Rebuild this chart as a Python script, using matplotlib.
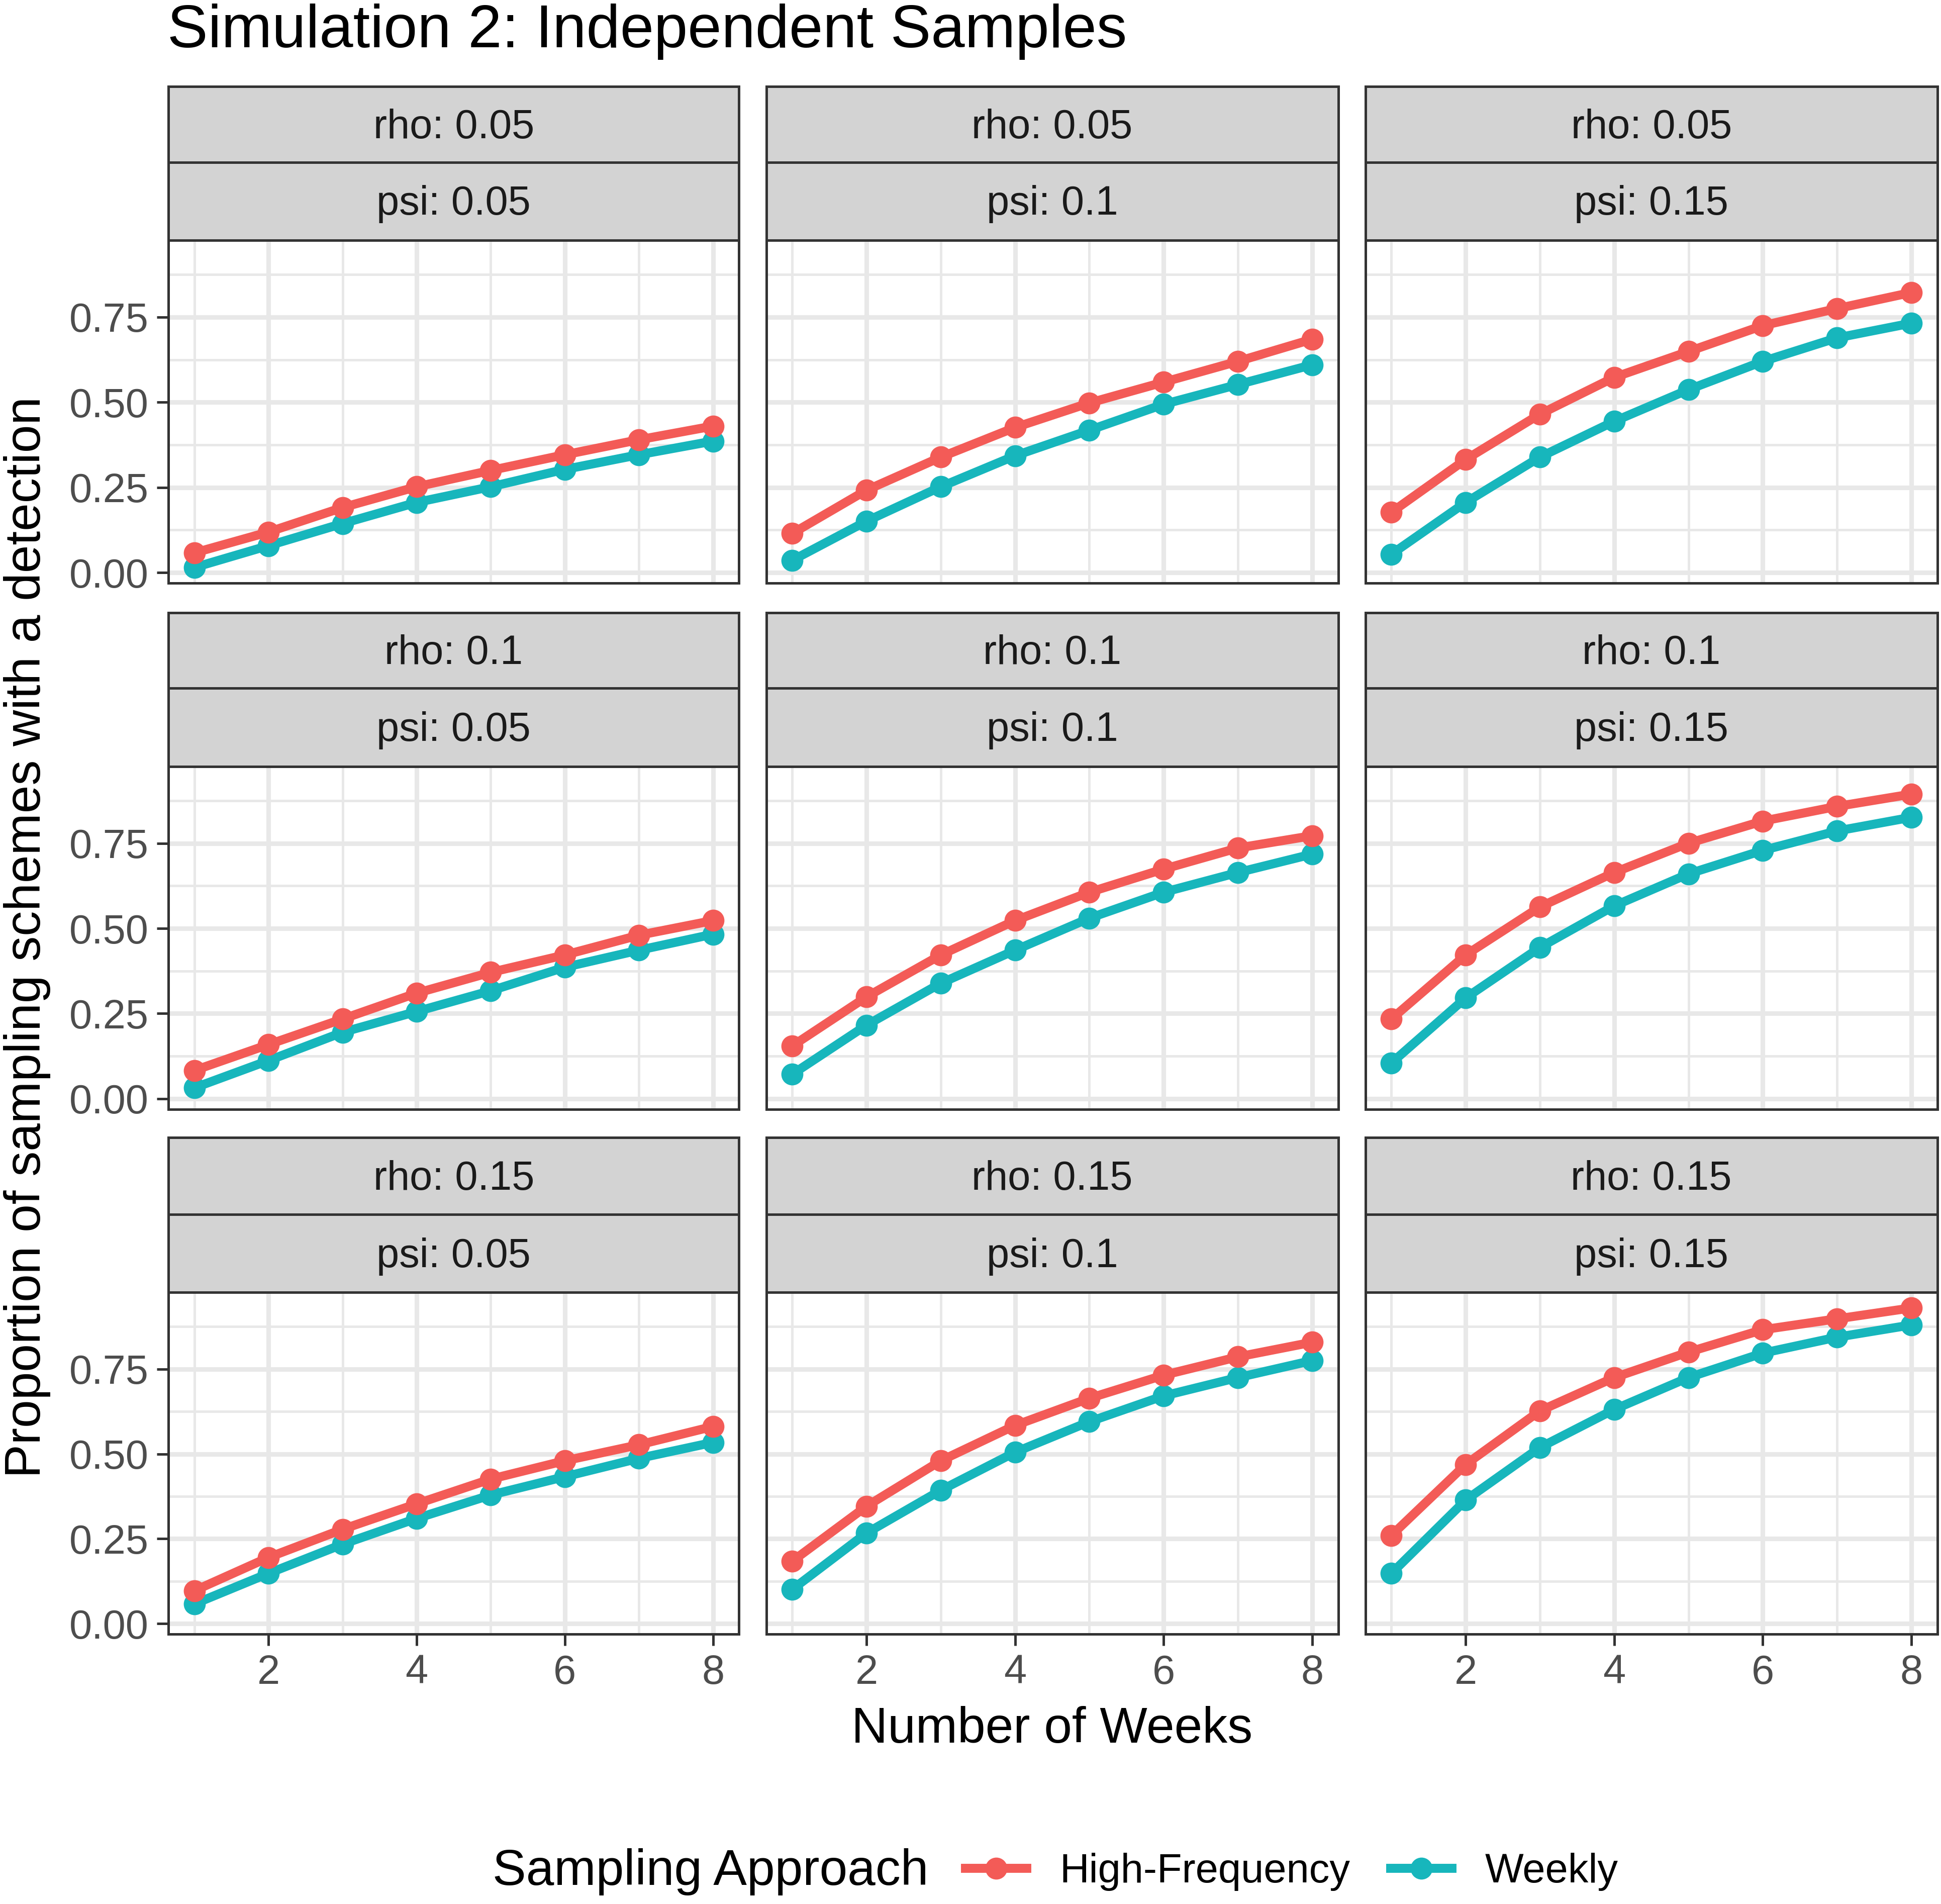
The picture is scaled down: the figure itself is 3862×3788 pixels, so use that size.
import numpy as np
import matplotlib.pyplot as plt
from matplotlib.lines import Line2D

plt.rcParams['font.family'] = ['Liberation Sans', 'DejaVu Sans']

weeks = [1, 2, 3, 4, 5, 6, 7, 8]
rho_labels = ['0.05', '0.1', '0.15']
psi_labels = ['0.05', '0.1', '0.15']

# row = rho, col = psi
high_freq = [
    [0.058, 0.119, 0.191, 0.252, 0.300, 0.346, 0.390, 0.430],
    [0.115, 0.242, 0.339, 0.426, 0.498, 0.559, 0.620, 0.685],
    [0.177, 0.332, 0.465, 0.573, 0.649, 0.725, 0.775, 0.822],
    [0.083, 0.159, 0.234, 0.310, 0.371, 0.422, 0.480, 0.523],
    [0.155, 0.299, 0.422, 0.523, 0.606, 0.674, 0.736, 0.772],
    [0.234, 0.422, 0.563, 0.664, 0.750, 0.815, 0.858, 0.894],
    [0.097, 0.195, 0.278, 0.353, 0.426, 0.480, 0.527, 0.581],
    [0.184, 0.346, 0.480, 0.584, 0.664, 0.732, 0.786, 0.829],
    [0.260, 0.469, 0.627, 0.725, 0.800, 0.866, 0.898, 0.930],
]
weekly = [
    [0.015, 0.079, 0.144, 0.206, 0.252, 0.303, 0.346, 0.386],
    [0.036, 0.151, 0.252, 0.343, 0.418, 0.494, 0.552, 0.610],
    [0.054, 0.206, 0.339, 0.444, 0.537, 0.620, 0.689, 0.732],
    [0.032, 0.112, 0.195, 0.256, 0.317, 0.386, 0.436, 0.483],
    [0.072, 0.216, 0.339, 0.436, 0.530, 0.606, 0.664, 0.718],
    [0.105, 0.296, 0.444, 0.566, 0.660, 0.729, 0.786, 0.826],
    [0.058, 0.148, 0.234, 0.310, 0.379, 0.433, 0.487, 0.534],
    [0.101, 0.267, 0.393, 0.505, 0.595, 0.671, 0.725, 0.775],
    [0.148, 0.364, 0.519, 0.631, 0.725, 0.797, 0.844, 0.880],
]

RED = '#F35B57'
TEAL = '#17B6BC'
BORDER = '#333333'
GRID = '#E8E8E8'
STRIP = '#D3D3D3'
LW = 4.3
MS = 9.5

W, H = 1568.0, 1538.0  # layout measured on a 1568 px wide view


def box(x0, y0, x1, y1):
    return [x0 / W, 1 - y1 / H, (x1 - x0) / W, (y1 - y0) / H]


fig = plt.figure(figsize=(3862 / 300, 3788 / 300), dpi=300)

col_x = [(136, 597), (619, 1081), (1103, 1565)]
row_y = [(70, 131, 194, 471), (495, 556, 619, 896), (919, 981, 1044, 1320)]

allv = np.concatenate([np.ravel(high_freq), np.ravel(weekly)])
pad = 0.05 * (allv.max() - allv.min())
ylim = (allv.min() - pad, allv.max() + pad)
xlim = (1 - 0.05 * 7, 8 + 0.05 * 7)

for r in range(3):
    for c in range(3):
        i = r * 3 + c
        x0, x1 = col_x[c]
        s0, s1, p0, p1 = row_y[r]

        for (a, b), lab in [((s0, s1), 'rho: ' + rho_labels[r]),
                            ((s1, p0), 'psi: ' + psi_labels[c])]:
            sax = fig.add_axes(box(x0, a, x1, b))
            sax.set_facecolor(STRIP)
            sax.set_xticks([])
            sax.set_yticks([])
            for sp in sax.spines.values():
                sp.set_color(BORDER)
                sp.set_linewidth(1.2)
            sax.text(0.5, 0.46, lab, ha='center', va='center', fontsize=19.5,
                     color='#1A1A1A', transform=sax.transAxes)

        ax = fig.add_axes(box(x0, p0, x1, p1))
        ax.set_xlim(xlim)
        ax.set_ylim(ylim)
        ax.set_xticks([2, 4, 6, 8])
        ax.set_xticks([1, 3, 5, 7], minor=True)
        ax.set_yticks([0, 0.25, 0.5, 0.75])
        ax.set_yticks([0.125, 0.375, 0.625, 0.875], minor=True)
        ax.grid(which='major', color=GRID, linewidth=2.2, zorder=0)
        ax.grid(which='minor', color=GRID, linewidth=1.2, zorder=0)
        ax.set_axisbelow(True)
        for sp in ax.spines.values():
            sp.set_color(BORDER)
            sp.set_linewidth(1.2)
        ax.tick_params(which='minor', length=0)
        ax.tick_params(which='major', length=5.5, width=1.2, color=BORDER,
                       labelsize=19.5, labelcolor='#4D4D4D', pad=4)
        if c == 0:
            ax.set_yticklabels(['0.00', '0.25', '0.50', '0.75'])
        else:
            ax.tick_params(axis='y', labelleft=False, length=0)
        if r == 2:
            ax.set_xticklabels(['2', '4', '6', '8'])
        else:
            ax.tick_params(axis='x', labelbottom=False, length=0)

        ax.plot(weeks, weekly[i], color=TEAL, linewidth=LW, marker='o',
                markersize=MS, zorder=3, solid_capstyle='round')
        ax.plot(weeks, high_freq[i], color=RED, linewidth=LW, marker='o',
                markersize=MS, zorder=4, solid_capstyle='round')

fig.text(135 / W, 1 - 38 / H, 'Simulation 2: Independent Samples', fontsize=29,
         ha='left', va='baseline', color='black')
fig.text(850 / W, 1 - 1397 / H, 'Number of Weeks', fontsize=24,
         ha='center', va='center')
fig.text(22 / W, 1 - 757 / H, 'Proportion of sampling schemes with a detection',
         fontsize=24, ha='center', va='center', rotation=90)

fig.text(398 / W, 1 - 1512 / H, 'Sampling Approach', fontsize=24,
         ha='left', va='center')
handles = [Line2D([], [], color=RED, linewidth=LW, marker='o', markersize=MS),
           Line2D([], [], color=TEAL, linewidth=LW, marker='o', markersize=MS)]
fig.legend(handles, ['High-Frequency', 'Weekly'], loc='center left',
           bbox_to_anchor=(780 / W, 1 - 1512 / H), ncol=2, frameon=False,
           fontsize=19.5, handlelength=1.5, handletextpad=0.8,
           columnspacing=1.0, borderaxespad=0, borderpad=0)

fig.savefig('out.png', dpi=300, facecolor='white')
